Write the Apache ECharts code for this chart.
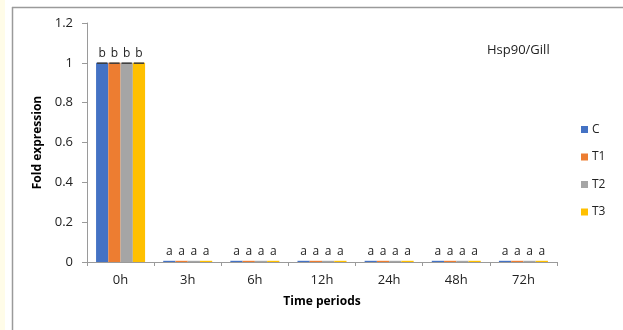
<!DOCTYPE html>
<html>
<head>
<meta charset="utf-8">
<script src="https://cdn.jsdelivr.net/npm/echarts@6/dist/echarts.min.js"></script>
<style>
  html, body { margin: 0; padding: 0; background: #ffffff; }
  #chart { width: 623px; height: 330px; }
</style>
</head>
<body>
<div id="chart"></div>
<script>
// Time points sampled
const categories = ['0h', '3h', '6h', '12h', '24h', '48h', '72h'];
// Fold expression per treatment group
const seriesNames = ['C', 'T1', 'T2', 'T3'];
const valuesC  = [1, 0.006, 0.006, 0.006, 0.006, 0.006, 0.006];
const valuesT1 = [1, 0.006, 0.006, 0.006, 0.006, 0.006, 0.006];
const valuesT2 = [1, 0.006, 0.006, 0.006, 0.006, 0.006, 0.006];
const valuesT3 = [1, 0.006, 0.006, 0.006, 0.006, 0.006, 0.006];
// Standard error per group
const errC  = [0.002, 0, 0, 0, 0, 0, 0];
const errT1 = [0.002, 0, 0, 0, 0, 0, 0];
const errT2 = [0.002, 0, 0, 0, 0, 0, 0];
const errT3 = [0.002, 0, 0, 0, 0, 0, 0];
// Significance letters
const lettersC  = ['b', 'a', 'a', 'a', 'a', 'a', 'a'];
const lettersT1 = ['b', 'a', 'a', 'a', 'a', 'a', 'a'];
const lettersT2 = ['b', 'a', 'a', 'a', 'a', 'a', 'a'];
const lettersT3 = ['b', 'a', 'a', 'a', 'a', 'a', 'a'];
const yTicks = [0, 0.2, 0.4, 0.6, 0.8, 1, 1.2];

const colors = ['#4472C4', '#ED7D31', '#A5A5A5', '#FFC000'];
const allValues = [valuesC, valuesT1, valuesT2, valuesT3];
const allErrors = [errC, errT1, errT2, errT3];
const allLetters = [lettersC, lettersT1, lettersT2, lettersT3];
const FONT = '"Open Sans", "Noto Sans", sans-serif';

const chart = echarts.init(document.getElementById('chart'), null, { renderer: 'canvas' });

const barSeries = seriesNames.map((name, i) => ({
  name: name,
  type: 'bar',
  data: allValues[i].map((v, j) => ({
    value: v,
    label: { formatter: allLetters[i][j] }
  })),
  itemStyle: { color: colors[i] },
  barGap: '0%',
  barCategoryGap: '27%',
  label: {
    show: true,
    position: 'top',
    distance: 3,
    color: '#222',
    fontFamily: FONT,
    fontSize: 12
  }
}));

// Error caps drawn on top of each bar, offset to that bar's slot
const errorSeries = seriesNames.map((name, i) => ({
  name: name + ' err',
  type: 'custom',
  silent: true,
  z: 5,
  renderItem: function (params, api) {
    const idx = api.value(0);
    const val = api.value(1);
    const err = api.value(2);
    if (!err) return null;
    const bandW = api.size([1, 0])[0];
    const groupW = bandW * (1 - 0.27);
    const barW = groupW / 4;
    const center = api.coord([idx, val]);
    const x0 = center[0] - groupW / 2 + barW * i;
    const top = api.coord([idx, val + err])[1];
    const bot = api.coord([idx, val - err])[1];
    return {
      type: 'rect',
      shape: { x: x0 + 1, y: top, width: barW - 2, height: Math.max(bot - top, 1.5) },
      style: { fill: '#3a3a3a' }
    };
  },
  data: allValues[i].map((v, j) => [j, v, allErrors[i][j]]),
  tooltip: { show: false }
}));

chart.setOption({
  animation: false,
  backgroundColor: '#ffffff',
  textStyle: { fontFamily: FONT },
  graphic: [
    { type: 'rect', left: 0, top: 0, shape: { width: 5, height: 330 }, style: { fill: '#FFFCE8' }, z: -10 },
    { type: 'line', shape: { x1: 12.5, y1: 7, x2: 12.5, y2: 330 }, style: { stroke: '#9a9a9a', lineWidth: 1.5 }, z: -5 },
    { type: 'line', shape: { x1: 12, y1: 7.5, x2: 623, y2: 7.5 }, style: { stroke: '#9a9a9a', lineWidth: 1.5 }, z: -5 }
  ],
  title: {
    text: 'Hsp90/Gill',
    left: 487,
    top: 44,
    padding: 0,
    textStyle: { fontFamily: FONT, fontSize: 13, fontWeight: 'normal', color: '#222' }
  },
  legend: {
    data: seriesNames,
    orient: 'vertical',
    left: 581,
    top: 121,
    padding: 0,
    itemWidth: 7,
    itemHeight: 7,
    itemGap: 10.5,
    icon: 'rect',
    textStyle: { fontFamily: FONT, fontSize: 12, color: '#222', padding: [0, 0, 0, -1], lineHeight: 17 }
  },
  grid: { left: 87, right: 66, top: 23, bottom: 68, containLabel: false },
  xAxis: {
    type: 'category',
    data: categories,
    name: 'Time periods',
    nameLocation: 'middle',
    nameGap: 34,
    nameTextStyle: { fontFamily: FONT, fontSize: 12, fontWeight: 'bold', color: '#000' },
    axisLine: { lineStyle: { color: '#9a9a9a' } },
    axisTick: { show: true, length: 4, lineStyle: { color: '#9a9a9a' } },
    axisLabel: { fontFamily: FONT, fontSize: 13, color: '#222', margin: 12 }
  },
  yAxis: {
    type: 'value',
    min: yTicks[0],
    max: yTicks[yTicks.length - 1],
    interval: 0.2,
    name: 'Fold expression',
    nameLocation: 'middle',
    nameGap: 38,
    nameTextStyle: { fontFamily: FONT, fontSize: 12, fontWeight: 'bold', color: '#000' },
    axisLine: { show: true, lineStyle: { color: '#9a9a9a' } },
    axisTick: { show: true, length: 5, lineStyle: { color: '#9a9a9a' } },
    splitLine: { show: false },
    axisLabel: {
      fontFamily: FONT, fontSize: 13, color: '#222', margin: 14,
      formatter: function (v) { return String(Math.round(v * 10) / 10); }
    }
  },
  series: barSeries.concat(errorSeries)
});
</script>
</body>
</html>
